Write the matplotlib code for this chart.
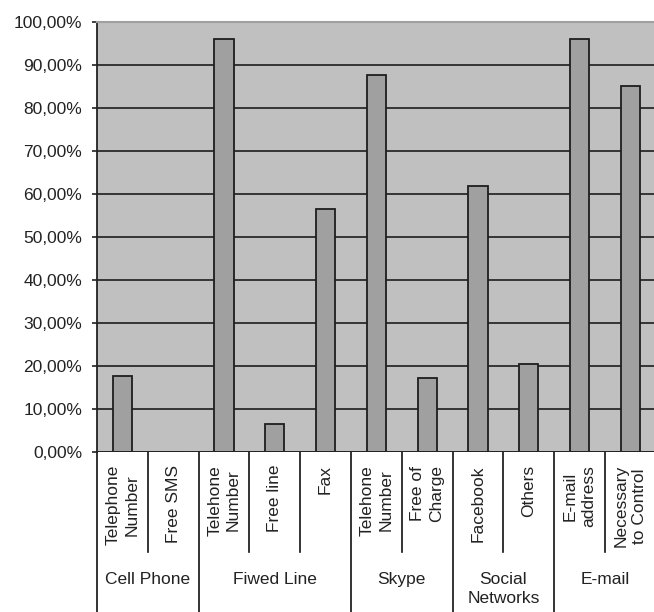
import matplotlib
matplotlib.use('Agg')
from matplotlib import pyplot as plt
from matplotlib.ticker import FuncFormatter
import numpy as np

# -- data --
items = ['Telephone\nNumber', 'Free SMS', 'Telehone\nNumber', 'Free line', 'Fax',
         'Telehone\nNumber', 'Free of\nCharge', 'Facebook', 'Others',
         'E-mail\naddress', 'Necessary\nto Control']
groups = ['Cell Phone', 'Fiwed Line', 'Skype', 'Social\nNetworks', 'E-mail']
group_sizes = [2, 3, 2, 2, 2]
values = [17.7, 0.0, 96.0, 6.6, 56.4, 87.7, 17.3, 61.8, 20.4, 96.0, 85.1]

plt.rcParams['font.family'] = ['Liberation Sans', 'DejaVu Sans']
txt_col = '#222222'
fs = 12.5

fig = plt.figure(figsize=(6.54, 6.12), dpi=100)
W, H = 654.0, 612.0
ax_top, ax_bot, ax_left = 22.0, 452.0, 97.0
ax_w = 11 * 50.8
ax_h = ax_bot - ax_top
ax = fig.add_axes([ax_left / W, (H - ax_bot) / H, ax_w / W, ax_h / H])

x = np.arange(len(items))
ax.set_facecolor('#C0C0C0')
ax.yaxis.grid(True, color='#2a2a2a', linewidth=1.3)
ax.set_axisbelow(True)
ax.bar(x, values, width=0.375, color='#A0A0A0', edgecolor='#1e1e1e', linewidth=1.3, zorder=3)

ax.set_xlim(-0.5, len(items) - 0.5)
ax.set_ylim(0, 100)
ax.set_yticks(np.arange(0, 101, 10))
ax.yaxis.set_major_formatter(FuncFormatter(lambda v, p: ('%.2f%%' % v).replace('.', ',')))
ax.tick_params(axis='y', length=3.6, width=1.2, color='#222222', pad=7, labelsize=fs, labelcolor=txt_col)
ax.set_xticks([])

for s in ['right', 'bottom']:
    ax.spines[s].set_visible(False)
ax.spines['top'].set_color('#A0A0A0')
ax.spines['top'].set_linewidth(1.5)
ax.spines['left'].set_color('#222222')
ax.spines['left'].set_linewidth(1.3)
ax.axhline(0, color='#222222', linewidth=1.3, zorder=4)

tr = ax.get_xaxis_transform()
px = 1.0 / ax_h  # one pixel in axes fraction (vertical)

# item labels (rotated)
for i, lab in enumerate(items):
    ax.text(i, -13 * px, lab, transform=tr, rotation=90, ha='center', va='top',
            multialignment='center', fontsize=fs, color=txt_col, linespacing=1.3)

# separators
bounds = np.cumsum([0] + group_sizes)
for b in range(len(items) + 1):
    xb = b - 0.5
    if b in bounds:
        y1 = -(H - ax_bot + 5) * px
    else:
        y1 = -100 * px
    ax.plot([xb, xb], [0, y1], transform=tr, color='#111111', linewidth=1.2, clip_on=False)

# group labels
for g, lab in enumerate(groups):
    xc = (bounds[g] + bounds[g + 1]) / 2.0 - 0.5
    ax.text(xc, -120 * px, lab, transform=tr, ha='center', va='top',
            multialignment='center', fontsize=fs, color=txt_col, linespacing=1.3)

fig.savefig('out.png', dpi=100)
